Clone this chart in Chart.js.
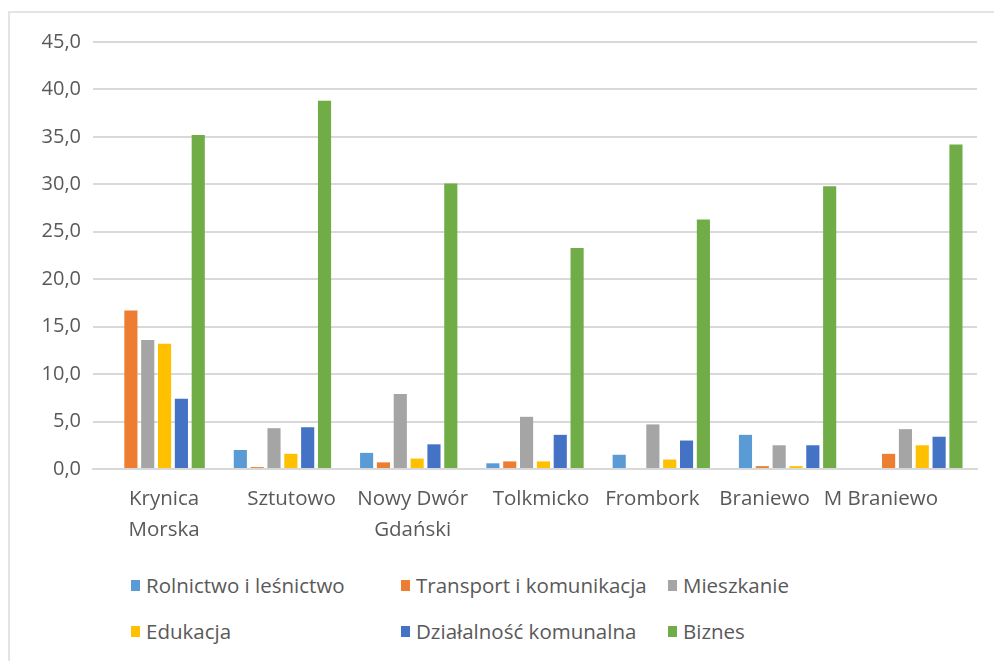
<!DOCTYPE html>
<html>
<head>
<meta charset="utf-8">
<script src="https://cdn.jsdelivr.net/npm/chart.js@4/dist/chart.umd.min.js"></script>
<style>
  html, body { margin: 0; padding: 0; background: #fff; }
  body { width: 994px; height: 661px; position: relative; overflow: hidden; font-family: "Open Sans", Lato, sans-serif; }
  #frame { position: absolute; left: 8px; top: 11px; width: 990px; height: 660px; border-top: 2px solid #e4e4e4; border-left: 2px solid #e4e4e4; }
  #wrap { position: absolute; left: 0; top: 0; width: 994px; height: 560px; }
  #legend { position: absolute; left: 0; top: 0; }
  .item { position: absolute; font-size: 20.5px; color: #595959; white-space: nowrap; line-height: 26px; }
  .item span.box { position: absolute; left: 0; top: 8px; width: 9px; height: 11px; }
  .item span.txt { position: absolute; left: 15px; top: 0; }
</style>
</head>
<body>
<div id="frame"></div>
<div id="wrap"><canvas id="myChart" width="994" height="560"></canvas></div>
<div id="legend"></div>
<script>
var categories = [["Krynica", "Morska"], "Sztutowo", ["Nowy Dwór", "Gdański"], "Tolkmicko", "Frombork", "Braniewo", "M Braniewo"];

var seriesNames = ["Rolnictwo i leśnictwo", "Transport i komunikacja", "Mieszkanie", "Edukacja", "Działalność komunalna", "Biznes"];
var seriesColors = ["#5b9bd5", "#ed7d31", "#a5a5a5", "#ffc000", "#4472c4", "#70ad47"];

var rolnictwo = [0, 2.0, 1.7, 0.6, 1.5, 3.6, 0];
var transport = [16.7, 0.2, 0.7, 0.8, 0, 0.3, 1.6];
var mieszkanie = [13.6, 4.3, 7.9, 5.5, 4.7, 2.5, 4.2];
var edukacja = [13.2, 1.6, 1.1, 0.8, 1.0, 0.3, 2.5];
var komunalna = [7.4, 4.4, 2.6, 3.6, 3.0, 2.5, 3.4];
var biznes = [35.2, 38.8, 30.1, 23.3, 26.3, 29.8, 34.2];

var yTicks = [0, 5, 10, 15, 20, 25, 30, 35, 40, 45];

var seriesData = [rolnictwo, transport, mieszkanie, edukacja, komunalna, biznes];

// excel squeezes the category labels a bit, these are the horizontal nudges
var labelShift = [8, 9, 4, 6, -9, -23, -33];

var datasets = seriesNames.map(function (name, i) {
	return {
		label: name,
		data: seriesData[i],
		backgroundColor: seriesColors[i],
		borderWidth: 0,
		categoryPercentage: 0.8,
		barPercentage: 0.78,
	};
});

var categoryLabels = {
	id: "categoryLabels",
	afterDraw: function (chart) {
		var c = chart.ctx;
		var xs = chart.scales.x;
		c.save();
		c.fillStyle = "#595959";
		c.font = "20.5px 'Open Sans'";
		c.textAlign = "center";
		c.textBaseline = "middle";
		categories.forEach(function (lab, i) {
			var lines = Array.isArray(lab) ? lab : [lab];
			var x = xs.getPixelForValue(i) + labelShift[i];
			lines.forEach(function (t, j) {
				c.fillText(t, x, xs.top + 30 + j * 31);
			});
		});
		c.restore();
	},
};

var ctx = document.getElementById("myChart").getContext("2d");

var graphData = {
	type: "bar",
	data: {
		labels: categories,
		datasets: datasets,
	},
	options: {
		responsive: false,
		animation: false,
		layout: { padding: { top: 42, right: 17, left: 0, bottom: 0 } },
		plugins: {
			legend: { display: false },
			tooltip: { enabled: false },
		},
		scales: {
			x: {
				grid: { display: false },
				border: { display: true, color: "#d9d9d9", width: 2 },
				ticks: { display: false },
				afterFit: function (scale) { scale.height = 91; },
			},
			y: {
				min: 0,
				max: 45,
				afterBuildTicks: function (scale) {
					scale.ticks = yTicks.map(function (v) { return { value: v }; });
				},
				grid: { color: "#d9d9d9", lineWidth: 2, drawTicks: false },
				border: { display: false },
				ticks: {
					color: "#595959",
					font: { family: "Open Sans", size: 20 },
					padding: 12,
					callback: function (v) { return v.toFixed(1).replace(".", ","); },
				},
				afterFit: function (scale) { scale.width = 93; },
			},
		},
	},
	plugins: [categoryLabels],
};

var myChart = new Chart(ctx, graphData);

// legend laid out in three columns, like the original
var legendCols = [131, 401, 668];
var legendRows = [572, 618];
var legend = document.getElementById("legend");
seriesNames.forEach(function (name, i) {
	var el = document.createElement("div");
	el.className = "item";
	el.style.left = legendCols[i % 3] + "px";
	el.style.top = legendRows[Math.floor(i / 3)] + "px";
	el.innerHTML = '<span class="box" style="background:' + seriesColors[i] + '"></span><span class="txt"></span>';
	el.querySelector(".txt").textContent = name;
	legend.appendChild(el);
});
</script>
</body>
</html>
